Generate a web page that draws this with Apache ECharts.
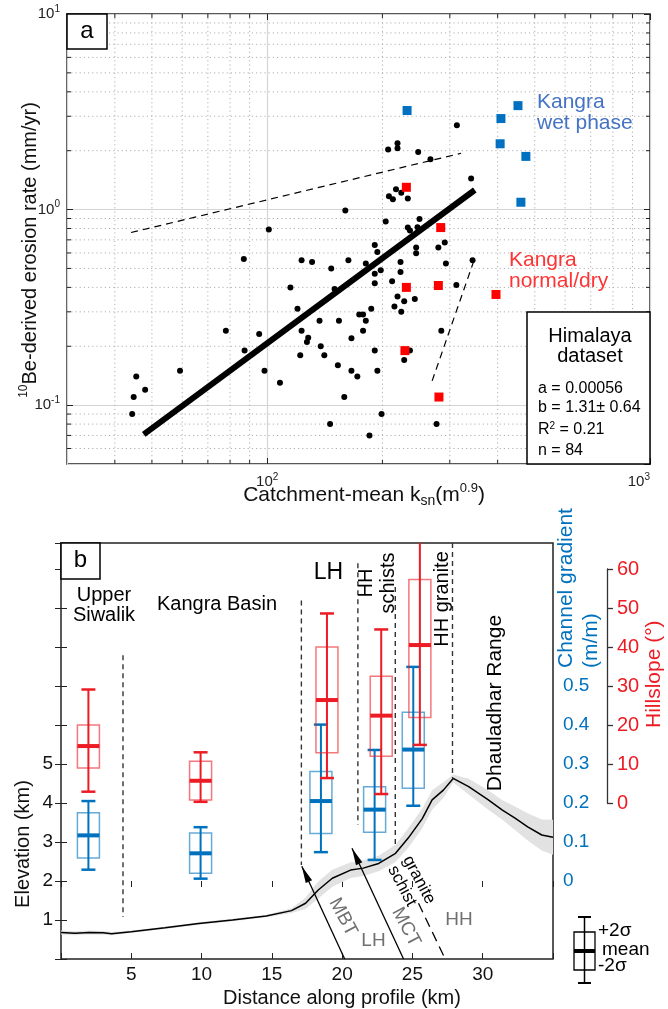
<!DOCTYPE html>
<html>
<head>
<meta charset="utf-8">
<script src="https://cdn.jsdelivr.net/npm/echarts@6/dist/echarts.min.js"></script>
<style>
  html, body { margin: 0; padding: 0; background: #fff; }
  #chart { width: 668px; height: 1009px; }
</style>
</head>
<body>
<div id="chart"></div>
<script>
var FONT = '"Liberation Sans", Arial, sans-serif';

// ---- panel a: ksn vs 10Be erosion rate ----
var himalayaKsn = [101, 86.9, 78.0, 95.3, 87.3, 59.2, 98.4, 45.5, 48.0, 44.8, 44.4,
  313, 219, 207, 219, 248, 267, 341, 217, 224, 208, 213, 233, 160, 204, 250, 233, 236, 247,
  191, 194, 291, 280, 245, 245, 123, 131, 163, 181, 223, 344, 293, 147, 198, 223, 191, 191,
  212, 115, 150, 312, 219, 228, 243, 215, 224, 120, 187, 174, 178, 181, 137, 154, 123, 178,
  285, 128, 127, 166, 138, 122, 141, 191, 236, 228, 153, 166, 194, 172, 108, 159, 199, 146, 277, 185];
var himalayaErosion = [0.79, 0.559, 0.240, 0.231, 0.190, 0.150, 0.150, 0.140, 0.120, 0.110, 0.090,
  2.70, 2.18, 2.03, 2.06, 1.97, 1.81, 1.44, 1.27, 1.22, 1.17, 1.13, 1.14, 0.988, 0.868, 0.895, 0.809, 0.781, 0.812,
  0.659, 0.607, 0.678, 0.639, 0.639, 0.598, 0.551, 0.540, 0.551, 0.530, 0.540, 0.551, 0.530, 0.500, 0.490, 0.480, 0.469, 0.420,
  0.430, 0.400, 0.392, 0.411, 0.359, 0.340, 0.349, 0.319, 0.300, 0.311, 0.311, 0.291, 0.291, 0.270, 0.270, 0.270, 0.240, 0.240,
  0.240, 0.221, 0.210, 0.220, 0.200, 0.180, 0.180, 0.190, 0.190, 0.170, 0.160, 0.150, 0.150, 0.140, 0.130, 0.110, 0.090, 0.080, 0.080, 0.070];
var wetKsn = [232, 452, 408, 406, 474, 460];
var wetErosion = [3.21, 3.40, 2.92, 2.17, 1.87, 1.09];
var dryKsn = [231, 284, 231, 280, 396, 229, 281];
var dryErosion = [1.30, 0.809, 0.400, 0.409, 0.368, 0.190, 0.110];
var fitKsn = [47.6, 348.6];
var fitErosion = [0.0708, 1.259];
var upperDashKsn = [44.1, 321];
var upperDashErosion = [0.763, 1.94];
var lowerDashKsn = [269.7, 345.9];
var lowerDashErosion = [0.133, 0.540];
var minorKsn = [40, 50, 60, 70, 80, 90, 200, 300, 400, 500, 600, 700, 800, 900];
var minorErosion = [0.06, 0.07, 0.08, 0.09, 0.2, 0.3, 0.4, 0.5, 0.6, 0.7, 0.8, 0.9, 2, 3, 4, 5, 6, 7, 8, 9];

// ---- panel b: profile ----
var profileKm = [0, 1, 2, 3, 3.6, 5, 7.4, 9.8, 12.2, 14.6, 16.4, 17.4, 18.3, 19.3, 20.6, 21.5, 22.6, 23.8, 24.7, 25.7, 26.4, 27.2, 27.9, 29.0, 30.4, 31.4, 32.3, 33.2, 34.2, 35];
var profileElev = [0.68, 0.66, 0.68, 0.67, 0.65, 0.70, 0.80, 0.91, 1.00, 1.10, 1.24, 1.43, 1.77, 2.07, 2.28, 2.33, 2.45, 2.71, 3.10, 3.60, 4.08, 4.33, 4.63, 4.42, 4.08, 3.82, 3.61, 3.39, 3.18, 3.12];
var bandLow = [0.63, 0.61, 0.63, 0.62, 0.61, 0.67, 0.77, 0.88, 0.97, 1.07, 1.18, 1.28, 1.55, 1.85, 2.08, 2.13, 2.25, 2.49, 2.85, 3.35, 3.83, 4.13, 4.53, 4.22, 3.83, 3.57, 3.31, 3.04, 2.78, 2.67];
var bandHigh = [0.73, 0.71, 0.73, 0.72, 0.69, 0.73, 0.83, 0.94, 1.03, 1.13, 1.30, 1.58, 1.99, 2.29, 2.48, 2.53, 2.65, 2.93, 3.35, 3.85, 4.33, 4.53, 4.73, 4.62, 4.33, 4.07, 3.91, 3.74, 3.58, 3.57];

var zoneNames = ['Upper Siwalik', 'Kangra Basin', 'LH', 'HH schists', 'HH granite'];
// [-2 sigma, box low, mean, box high, +2 sigma]
var hillslopeKm = [1.95, 9.93, 18.92, 22.78, 25.53];
var hillslopeStats = [
  [2.9, 9.0, 14.6, 20.0, 29.1],
  [0.3, 0.8, 5.7, 10.7, 13.0],
  [6.4, 12.9, 26.4, 40.0, 48.6],
  [2.3, 12.0, 22.4, 32.5, 44.5],
  [14.9, 21.9, 40.5, 57.3, 68.0]
];
var gradientKm = [1.95, 9.93, 18.49, 22.31, 25.06];
var gradientStats = [
  [0.029, 0.059, 0.117, 0.175, 0.205],
  [0.006, 0.020, 0.071, 0.123, 0.138],
  [0.074, 0.122, 0.205, 0.281, 0.401],
  [0.054, 0.125, 0.183, 0.242, 0.336],
  [0.193, 0.238, 0.337, 0.433, 0.549]
];
var boundaryKm = [4.41, 17.10, 21.12, 23.78, 27.85];
var boundaryTop = [7.79, 9.19, 10.15, 9.54, 10.67];
var boundaryBottom = [1.08, 2.41, 3.44, 2.88, 4.64];
var faultTopKm = [17.13, 20.70];
var faultTopElev = [2.38, 2.84];
var faultBaseKm = [20.18, 24.37];
var faultBaseElev = [0, 0];
var contactKm = [25.43, 27.33];
var contactElev = [1.43, 0];

var BLUE = '#0072BD';
var RED = '#ED1C24';

function zip(a, b) { return a.map(function (v, i) { return [v, b[i]]; }); }

function powerLabel(v) {
  var e = Math.log(v) / Math.LN10;
  var r = Math.round(e);
  if (Math.abs(e - r) > 1e-6) return '';
  return '{b|10}{s|' + r + '}';
}
var powRich = {
  b: { fontSize: 15, color: '#222', lineHeight: 20, fontFamily: FONT },
  s: { fontSize: 10, color: '#222', lineHeight: 10, verticalAlign: 'top', fontFamily: FONT }
};

// dotted minor grid lines plus short inward ticks on both edges of panel a
function minorGridRenderer(vertical) {
  return function (params, api) {
    var cs = params.coordSys;
    var p = api.coord([api.value(0), api.value(1)]);
    var dot = { stroke: '#b0b0b0', lineWidth: 1, lineDash: [1.2, 3] };
    var tk = { stroke: '#222', lineWidth: 1 };
    if (vertical) {
      return { type: 'group', children: [
        { type: 'line', shape: { x1: p[0], y1: cs.y, x2: p[0], y2: cs.y + cs.height }, style: dot },
        { type: 'line', shape: { x1: p[0], y1: cs.y, x2: p[0], y2: cs.y + 4 }, style: tk },
        { type: 'line', shape: { x1: p[0], y1: cs.y + cs.height - 4, x2: p[0], y2: cs.y + cs.height }, style: tk }
      ] };
    }
    return { type: 'group', children: [
      { type: 'line', shape: { x1: cs.x, y1: p[1], x2: cs.x + cs.width, y2: p[1] }, style: dot },
      { type: 'line', shape: { x1: cs.x, y1: p[1], x2: cs.x + 4, y2: p[1] }, style: tk },
      { type: 'line', shape: { x1: cs.x + cs.width - 4, y1: p[1], x2: cs.x + cs.width, y2: p[1] }, style: tk }
    ] };
  };
}

function boxRenderer(color) {
  return function (params, api) {
    var x = api.value(0);
    var lo = api.coord([x, api.value(1)]);
    var q1 = api.coord([x, api.value(2)]);
    var mean = api.coord([x, api.value(3)]);
    var q3 = api.coord([x, api.value(4)]);
    var hi = api.coord([x, api.value(5)]);
    var top = params.coordSys.y;
    var half = 11, cap = 7;
    var hiY = Math.max(hi[1], top);
    var q3Y = Math.max(q3[1], top);
    var kids = [
      { type: 'rect', shape: { x: q3[0] - half, y: q3Y, width: 2 * half, height: q1[1] - q3Y },
        style: { fill: 'none', stroke: color, lineWidth: 1.5, opacity: 0.6 } },
      { type: 'line', shape: { x1: lo[0], y1: lo[1], x2: hi[0], y2: hiY },
        style: { stroke: color, lineWidth: 2 } },
      { type: 'line', shape: { x1: lo[0] - cap, y1: lo[1], x2: lo[0] + cap, y2: lo[1] },
        style: { stroke: color, lineWidth: 2.5 } },
      { type: 'line', shape: { x1: mean[0] - half, y1: mean[1], x2: mean[0] + half, y2: mean[1] },
        style: { stroke: color, lineWidth: 4 } }
    ];
    if (hi[1] > top) {
      kids.push({ type: 'line', shape: { x1: hi[0] - cap, y1: hi[1], x2: hi[0] + cap, y2: hi[1] },
        style: { stroke: color, lineWidth: 2.5 } });
    }
    return { type: 'group', children: kids };
  };
}

// grey envelope around the elevation profile, drawn once as a polygon
function bandRenderer(params, api) {
  if (params.dataIndexInside !== 0) return { type: 'group', children: [] };
  var n = params.dataInsideLength;
  var pts = [];
  for (var i = 0; i < n; i++) pts.push(api.coord([api.value(0, i), api.value(1, i)]));
  for (var j = n - 1; j >= 0; j--) pts.push(api.coord([api.value(0, j), api.value(2, j)]));
  return { type: 'polygon', shape: { points: pts }, style: { fill: '#e2e2e2' } };
}

function faultRenderer(params, api) {
  var p0 = api.coord([api.value(0), api.value(1)]);
  var p1 = api.coord([api.value(2), api.value(3)]);
  var dx = p0[0] - p1[0], dy = p0[1] - p1[1];
  var len = Math.sqrt(dx * dx + dy * dy);
  var ux = dx / len, uy = dy / len;
  var bx = p0[0] - ux * 17, by = p0[1] - uy * 17;
  var nx = -uy * 3.5, ny = ux * 3.5;
  return { type: 'group', children: [
    { type: 'line', shape: { x1: p0[0], y1: p0[1], x2: p1[0], y2: p1[1] }, style: { stroke: '#000', lineWidth: 1.3 } },
    { type: 'polygon', shape: { points: [[p0[0], p0[1]], [bx + nx, by + ny], [bx - nx, by - ny]] }, style: { fill: '#000' } }
  ] };
}

function txt(str, x, y, size, color, opts) {
  opts = opts || {};
  var st = { text: str, fontSize: size, fontFamily: FONT, fill: color || '#000',
    align: opts.align || 'center', verticalAlign: opts.valign || 'middle' };
  if (opts.lh) st.lineHeight = opts.lh;
  if (opts.rich) st.rich = opts.rich;
  return { type: 'text', x: x, y: y, z: 100, silent: true,
    rotation: (opts.rot || 0) * Math.PI / 180, style: st };
}
function rectEl(x, y, w, h, fill, lw) {
  return { type: 'rect', z: 99, silent: true, shape: { x: x, y: y, width: w, height: h },
    style: { fill: fill || 'none', stroke: '#000', lineWidth: lw || 1.5 } };
}
function lineEl(x1, y1, x2, y2, w) {
  return { type: 'line', z: 100, silent: true, shape: { x1: x1, y1: y1, x2: x2, y2: y2 },
    style: { stroke: '#000', lineWidth: w || 1.5 } };
}

var logTickX = { type: 'log', logBase: 10, gridIndex: 0, min: 30, max: 1000 };
var logTickY = { type: 'log', logBase: 10, gridIndex: 0, min: 0.05, max: 10 };
var hiddenTick = { axisLine: { show: false }, axisLabel: { show: false }, splitLine: { show: false } };

var option = {
  animation: false,
  backgroundColor: '#fff',
  textStyle: { fontFamily: FONT },
  grid: [
    { left: 67, top: 14, width: 583, height: 450, show: true, borderColor: '#222', borderWidth: 1.5 },
    { left: 61, top: 543, width: 492, height: 416, show: true, borderColor: '#222', borderWidth: 1.5 },
    { left: 607, top: 569, width: 1, height: 234 }
  ],
  xAxis: [
    Object.assign({}, logTickX, {
      axisLine: { show: false },
      axisTick: { inside: true, length: 6, lineStyle: { color: '#222' } },
      axisLabel: { formatter: powerLabel, rich: powRich, margin: 8, alignMaxLabel: 'right', showMinLabel: false },
      splitLine: { show: true, lineStyle: { color: '#d4d4d4', width: 1.2 } }
    }),
    { type: 'value', gridIndex: 1, min: 0, max: 35, interval: 5,
      axisLine: { show: false },
      axisTick: { inside: true, length: 6, lineStyle: { color: '#222' } },
      axisLabel: { fontSize: 19, color: '#111', margin: 6,
        formatter: function (v) { return (v > 0 && v < 35) ? String(v) : ''; } },
      splitLine: { show: false } },
    Object.assign({ type: 'value', gridIndex: 1, position: 'top', min: 0, max: 35, interval: 5,
      axisTick: { inside: true, length: 6, lineStyle: { color: '#222' } } }, hiddenTick),
    { type: 'value', gridIndex: 2, show: false },
    Object.assign({}, logTickX, hiddenTick, { position: 'top',
      axisTick: { inside: true, length: 6, lineStyle: { color: '#222' } } })
  ],
  yAxis: [
    Object.assign({}, logTickY, {
      axisLine: { show: false },
      axisTick: { inside: true, length: 6, lineStyle: { color: '#222' } },
      axisLabel: { formatter: powerLabel, rich: powRich, margin: 7, showMinLabel: false },
      splitLine: { show: true, lineStyle: { color: '#d4d4d4', width: 1.2 } }
    }),
    { type: 'value', gridIndex: 1, min: 0, max: 10.667, interval: 1,
      axisLine: { show: false },
      axisTick: { inside: true, length: 6, lineStyle: { color: '#222' } },
      axisLabel: { fontSize: 19, color: '#111', margin: 8,
        formatter: function (v) { return (v >= 1 && v <= 5) ? String(v) : ''; } },
      splitLine: { show: false } },
    { type: 'value', gridIndex: 1, position: 'right', min: -0.2, max: 0.8667, interval: 0.1,
      axisLine: { show: false },
      axisTick: { inside: true, length: 6, lineStyle: { color: '#222' } },
      axisLabel: { fontSize: 19, color: BLUE, margin: 10,
        formatter: function (v) { return (v > -0.001 && v < 0.501) ? String(+v.toFixed(1)) : ''; } },
      splitLine: { show: false } },
    { type: 'value', gridIndex: 1, show: false, min: -40, max: 66.667 },
    { type: 'value', gridIndex: 2, position: 'right', min: 0, max: 60, interval: 10,
      axisLine: { show: true, lineStyle: { color: '#333', width: 1.3 } },
      axisTick: { show: true, length: 6, lineStyle: { color: '#333', width: 1.3 } },
      axisLabel: { fontSize: 20, color: RED, margin: 9 },
      splitLine: { show: false } },
    Object.assign({}, logTickY, hiddenTick, { position: 'right',
      axisTick: { inside: true, length: 6, lineStyle: { color: '#222' } } })
  ],
  series: [
    { type: 'custom', xAxisIndex: 0, yAxisIndex: 0, renderItem: minorGridRenderer(true), z: 1, silent: true,
      clip: false, encode: { x: 0, y: 1 },
      data: minorKsn.map(function (v) { return [v, 1]; }) },
    { type: 'custom', xAxisIndex: 0, yAxisIndex: 0, renderItem: minorGridRenderer(false), z: 1, silent: true,
      clip: false, encode: { x: 0, y: 1 },
      data: minorErosion.map(function (v) { return [100, v]; }) },
    { type: 'line', xAxisIndex: 0, yAxisIndex: 0, data: zip(upperDashKsn, upperDashErosion), symbol: 'none',
      lineStyle: { color: '#000', width: 1.2, type: [7, 5] }, z: 3 },
    { type: 'line', xAxisIndex: 0, yAxisIndex: 0, data: zip(lowerDashKsn, lowerDashErosion), symbol: 'none',
      lineStyle: { color: '#000', width: 1.2, type: [7, 5] }, z: 3 },
    { type: 'scatter', xAxisIndex: 0, yAxisIndex: 0, data: zip(himalayaKsn, himalayaErosion),
      symbolSize: 6, itemStyle: { color: '#000', opacity: 1 }, z: 4 },
    { type: 'line', xAxisIndex: 0, yAxisIndex: 0, data: zip(fitKsn, fitErosion), symbol: 'none',
      lineStyle: { color: '#000', width: 6 }, z: 5 },
    { type: 'scatter', xAxisIndex: 0, yAxisIndex: 0, data: zip(wetKsn, wetErosion), symbol: 'rect',
      symbolSize: 9, itemStyle: { color: '#0070C0', opacity: 1 }, z: 6 },
    { type: 'scatter', xAxisIndex: 0, yAxisIndex: 0, data: zip(dryKsn, dryErosion), symbol: 'rect',
      symbolSize: 9, itemStyle: { color: '#FF0000', opacity: 1 }, z: 6 },

    // panel b
    { type: 'custom', xAxisIndex: 1, yAxisIndex: 1, renderItem: bandRenderer, z: 1, silent: true,
      encode: { x: 0, y: [1, 2] },
      data: profileKm.map(function (k, i) { return [k, bandLow[i], bandHigh[i]]; }) },
    { type: 'line', xAxisIndex: 1, yAxisIndex: 1, data: zip(profileKm, profileElev), symbol: 'none',
      lineStyle: { color: '#000', width: 1.5 }, z: 3 }
  ].concat(boundaryKm.map(function (k, i) {
    return { type: 'line', xAxisIndex: 1, yAxisIndex: 1, data: [[k, boundaryTop[i]], [k, boundaryBottom[i]]],
      symbol: 'none', lineStyle: { color: '#333', width: 1.4, type: [5, 4] }, z: 2 };
  })).concat([
    { type: 'custom', xAxisIndex: 1, yAxisIndex: 1, renderItem: faultRenderer, z: 4,
      encode: { x: [0, 2], y: [1, 3] },
      data: faultTopKm.map(function (k, i) { return [k, faultTopElev[i], faultBaseKm[i], faultBaseElev[i]]; }) },
    { type: 'line', xAxisIndex: 1, yAxisIndex: 1, data: zip(contactKm, contactElev), symbol: 'none',
      lineStyle: { color: '#000', width: 1.3, type: [10, 6] }, z: 4 },
    { type: 'custom', name: 'Channel gradient', xAxisIndex: 1, yAxisIndex: 2, renderItem: boxRenderer(BLUE), z: 5,
      encode: { x: 0, y: [1, 2, 3, 4, 5] },
      data: gradientKm.map(function (k, i) { return [k].concat(gradientStats[i]); }) },
    { type: 'custom', name: 'Hillslope', xAxisIndex: 1, yAxisIndex: 3, renderItem: boxRenderer(RED), z: 5,
      encode: { x: 0, y: [1, 2, 3, 4, 5] },
      data: hillslopeKm.map(function (k, i) { return [k].concat(hillslopeStats[i]); }) }
  ]),
  graphic: [
    // panel a annotations
    rectEl(67, 14, 40, 35, '#fff'),
    txt('a', 87, 31, 24),
    txt('Kangra\nwet phase', 537, 113, 21, '#4472C4', { align: 'left', lh: 21 }),
    txt('Kangra\nnormal/dry', 509, 271, 21, '#FF3333', { align: 'left', lh: 21 }),
    rectEl(527, 312, 123, 152, '#fff'),
    txt('Himalaya\ndataset', 590, 346, 20, '#000', { lh: 20 }),
    txt('a = 0.00056', 538, 389, 16, '#000', { align: 'left' }),
    txt('b = 1.31\u00b1 0.64', 538, 408, 16, '#000', { align: 'left' }),
    txt('{n|R}{s|2}{n| = 0.21}', 538, 430, 16, '#000', { align: 'left',
      rich: { n: { fontSize: 16, lineHeight: 18 }, s: { fontSize: 10, lineHeight: 10, verticalAlign: 'top' } } }),
    txt('n = 84', 538, 451, 16, '#000', { align: 'left' }),
    txt('{s|10}{n|Be-derived erosion rate (mm/yr)}', 30, 250, 20, '#111', { rot: 90,
      rich: { n: { fontSize: 20, lineHeight: 24 }, s: { fontSize: 12, lineHeight: 12, verticalAlign: 'top' } } }),
    txt('{n|Catchment-mean k}{sub|sn}{n|(m}{sup|0.9}{n|)}', 364, 495, 21, '#111', {
      rich: { n: { fontSize: 21, lineHeight: 26 }, sub: { fontSize: 14, lineHeight: 12, verticalAlign: 'bottom' },
        sup: { fontSize: 13, lineHeight: 12, verticalAlign: 'top' } } }),

    // panel b annotations
    rectEl(61, 543, 39, 36, '#fff'),
    txt('b', 80.5, 560, 24),
    txt('Upper\nSiwalik', 104, 605, 20, '#000', { lh: 20 }),
    txt('Kangra Basin', 217, 604, 20),
    txt('LH', 328.5, 573, 23),
    txt('HH\nschists', 377, 583, 20, '#000', { rot: 90, lh: 22 }),
    txt('HH granite', 442, 599, 20, '#000', { rot: 90 }),
    txt('Dhauladhar Range', 495, 703, 21, '#000', { rot: 90 }),
    txt('MBT', 343, 917, 19, '#707070', { rot: -62 }),
    txt('LH', 373.5, 941, 19, '#707070'),
    txt('MCT', 406, 927, 19, '#707070', { rot: -62 }),
    txt('HH', 459, 920, 19, '#707070'),
    txt('granite', 419, 880, 17, '#000', { rot: -62 }),
    txt('schist', 402, 886, 17, '#000', { rot: -62 }),
    txt('Elevation (km)', 23, 844, 20, '#111', { rot: 90 }),
    txt('Distance along profile (km)', 342, 998, 20, '#111'),
    txt('Channel gradient', 566, 668, 21, BLUE, { rot: 90, align: 'left' }),
    txt('(m/m)', 591, 668, 21, BLUE, { rot: 90, align: 'left' }),
    txt('Hillslope (\u00b0)', 654, 728, 21, RED, { rot: 90, align: 'left' }),

    // box key
    rectEl(574, 932, 21, 38, 'none', 1.3),
    lineEl(584.5, 917, 584.5, 983, 1.5),
    lineEl(578, 917, 591, 917, 2),
    lineEl(578, 983, 591, 983, 2),
    lineEl(574, 951, 595, 951, 4),
    txt('+2\u03c3', 598, 931, 19, '#000', { align: 'left' }),
    txt('mean', 602, 950, 19, '#000', { align: 'left' }),
    txt('-2\u03c3', 598, 966, 19, '#000', { align: 'left' })
  ]
};

var chart = echarts.init(document.getElementById('chart'), null, { renderer: 'canvas' });
chart.setOption(option);
</script>
</body>
</html>
